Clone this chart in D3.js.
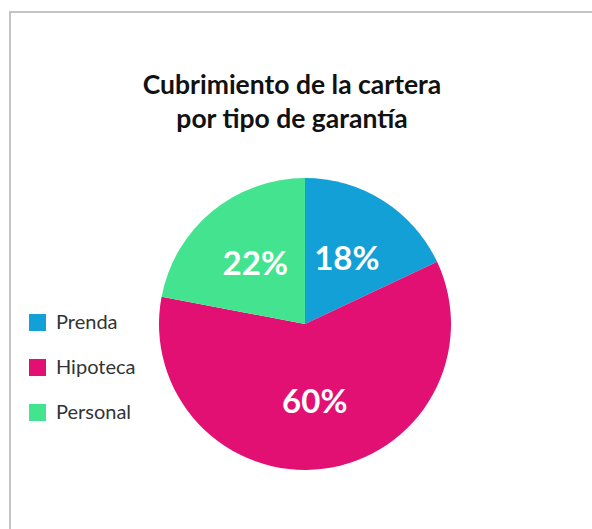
<!DOCTYPE html>
<html>
<head>
<meta charset="utf-8">
<script src="https://cdn.jsdelivr.net/npm/d3@7"></script>
<style>
	body { margin: 0; background: #fff; }
	svg { display: block; }
</style>
</head>
<body>
<svg id="chart" width="592" height="529"></svg>
<script>
var categories = ["Prenda", "Hipoteca", "Personal"];
var values = [18, 60, 22];
var colors = ["#12a0d7", "#e31074", "#44e38f"];
var titleLines = ["Cubrimiento de la cartera", "por tipo de garantía"];

var svg = d3.select("#chart");
var width = 592, height = 529;
var font = "Lato, 'Noto Sans', sans-serif";

// frame (top + left border only visible)
svg.append("line")
	.attr("x1", 10).attr("y1", 12).attr("x2", width).attr("y2", 12)
	.attr("stroke", "#c4c4c4").attr("stroke-width", 2);
svg.append("line")
	.attr("x1", 10).attr("y1", 11).attr("x2", 10).attr("y2", height)
	.attr("stroke", "#c4c4c4").attr("stroke-width", 2);

// title
svg.append("text")
	.attr("x", 292)
	.attr("y", 94)
	.attr("text-anchor", "middle")
	.attr("font-family", font)
	.attr("font-weight", "bold")
	.attr("font-size", 26.5)
	.attr("fill", "#111")
	.selectAll("tspan")
	.data(titleLines)
	.enter().append("tspan")
	.attr("x", 292)
	.attr("dy", function(d, i) { return i === 0 ? 0 : 34; })
	.text(function(d) { return d; });

// pie
var cx = 305, cy = 324, radius = 146;
var data = categories.map(function(c, i) {
	return { name: c, value: values[i], color: colors[i] };
});

var pie = d3.pie()
	.sort(null)
	.value(function(d) { return d.value; });

var arc = d3.arc().innerRadius(0).outerRadius(radius);
var labelArc = d3.arc().innerRadius(78).outerRadius(78);

var g = svg.append("g").attr("transform", "translate(" + cx + "," + cy + ")");

var arcs = pie(data);

g.selectAll(".slice")
	.data(arcs)
	.enter()
	.append("path")
	.attr("class", "slice")
	.attr("d", arc)
	.attr("fill", function(d) { return d.data.color; });

g.selectAll(".slice_label")
	.data(arcs)
	.enter()
	.append("text")
	.attr("class", "slice_label")
	.attr("transform", function(d) {
		var c = labelArc.centroid(d);
		return "translate(" + c[0] + "," + c[1] + ")";
	})
	.attr("text-anchor", "middle")
	.attr("dy", "0.35em")
	.attr("font-family", font)
	.attr("font-weight", "bold")
	.attr("font-size", 33)
	.attr("fill", "#fff")
	.text(function(d) { return d.data.value + "%"; });

// legend
var legend = svg.append("g").attr("transform", "translate(29,314)");

var item = legend.selectAll(".legend_item")
	.data(data)
	.enter()
	.append("g")
	.attr("class", "legend_item")
	.attr("transform", function(d, i) { return "translate(0," + (i * 45) + ")"; });

item.append("rect")
	.attr("width", 17)
	.attr("height", 17)
	.attr("fill", function(d) { return d.color; });

item.append("text")
	.attr("x", 27)
	.attr("y", 15)
	.attr("font-family", font)
	.attr("font-size", 20)
	.attr("fill", "#333")
	.text(function(d) { return d.name; });
</script>
</body>
</html>
